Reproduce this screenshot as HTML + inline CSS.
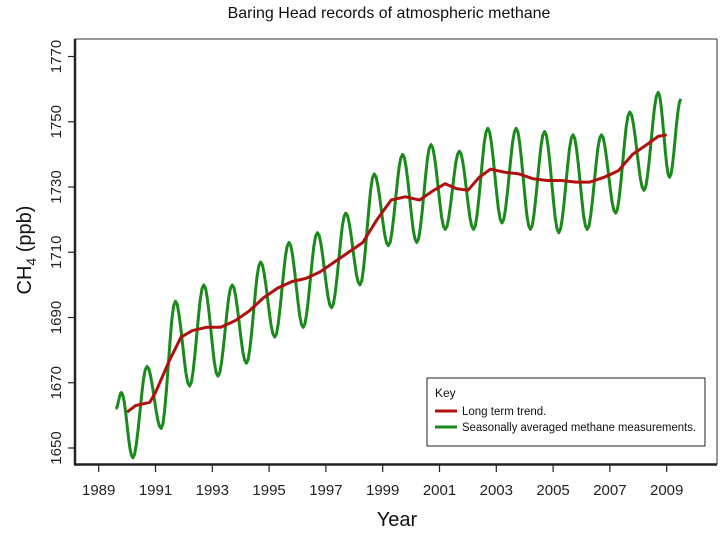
<!DOCTYPE html>
<html><head><meta charset="utf-8"><style>
body{margin:0;background:#fff;}
svg{display:block;font-family:"Liberation Sans",sans-serif;}
</style></head><body>
<svg id="s" width="720" height="555" viewBox="0 0 720 555" xmlns="http://www.w3.org/2000/svg">
<rect width="720" height="555" fill="#fff"/>
<text x="389" y="18" font-size="16" text-anchor="middle" fill="#111">Baring Head records of atmospheric methane</text>
<rect x="75" y="39" width="642" height="425" fill="none" stroke="#333" stroke-width="1"/>
<line x1="75" y1="39" x2="75" y2="465" stroke="#222" stroke-width="2.5"/>
<line x1="74" y1="464.5" x2="717" y2="464.5" stroke="#222" stroke-width="2.5"/>
<g id="ticks" stroke="#222" stroke-width="1.2"></g>
<g id="labels" font-size="15" fill="#222"></g>
<text transform="translate(31,250) rotate(-90)" font-size="20" text-anchor="middle" fill="#111">CH<tspan font-size="14" dy="5">4</tspan><tspan dy="-5"> (ppb)</tspan></text>
<text x="397" y="526" font-size="20" text-anchor="middle" fill="#111">Year</text>
<path id="g" fill="none" stroke="#1a8a1a" stroke-width="3" stroke-linejoin="round"/>
<path id="r" fill="none" stroke="#b01010" stroke-width="3" stroke-linejoin="round"/>
<rect x="427" y="378" width="278" height="68" fill="#fff" stroke="#222" stroke-width="1"/>
<text x="435" y="397" font-size="12" fill="#111">Key</text>
<line x1="435" y1="411" x2="457" y2="411" stroke="#b01010" stroke-width="3"/>
<line x1="435" y1="427" x2="457" y2="427" stroke="#1a8a1a" stroke-width="3"/>
<text x="462" y="415" font-size="11.5" fill="#111">Long term trend.</text>
<text x="462" y="431" font-size="11.5" fill="#111" textLength="234" lengthAdjust="spacingAndGlyphs">Seasonally averaged methane measurements.</text>
</svg>
<script>
var X=function(t){return 98.7+(t-1989)*28.4;};
var Y=function(v){return 448-(v-1650)*3.2625;};
var NS="http://www.w3.org/2000/svg";
var tk=document.getElementById('ticks'),lb=document.getElementById('labels');
function el(p,n,a,txt){var e=document.createElementNS(NS,n);for(var k in a)e.setAttribute(k,a[k]);if(txt)e.textContent=txt;p.appendChild(e);}
for(var y=1989;y<=2009;y+=2){el(tk,'line',{x1:X(y),y1:465,x2:X(y),y2:472});el(lb,'text',{x:X(y),y:495,'text-anchor':'middle'},String(y));}
for(var v=1650;v<=1770;v+=20){el(tk,'line',{x1:68,y1:Y(v),x2:75,y2:Y(v)});el(lb,'text',{transform:'translate(61,'+Y(v)+') rotate(-90)','text-anchor':'middle'},String(v));}
var G=[[1989.6,1662],[1989.8,1667],[1990.2,1647],[1990.7,1675],[1991.2,1656],[1991.7,1695],[1992.2,1669],[1992.7,1700],[1993.2,1672],[1993.7,1700],[1994.2,1676],[1994.7,1707],[1995.2,1684],[1995.7,1713],[1996.2,1687],[1996.7,1716],[1997.2,1693],[1997.7,1722],[1998.2,1700],[1998.7,1734],[1999.2,1712],[1999.7,1740],[2000.2,1713],[2000.7,1743],[2001.2,1717],[2001.7,1741],[2002.2,1717],[2002.7,1748],[2003.2,1719],[2003.7,1748],[2004.2,1717],[2004.7,1747],[2005.2,1716],[2005.7,1746],[2006.2,1717],[2006.7,1746],[2007.2,1722],[2007.7,1753],[2008.2,1729],[2008.7,1759],[2009.1,1733],[2009.5,1757]];
var d='';
for(var i=0;i<G.length-1;i++){var a=G[i],b=G[i+1];for(var k=0;k<=8;k++){var f=k/8,c=(1-Math.cos(Math.PI*f))/2;var t=a[0]+(b[0]-a[0])*f,v=a[1]+(b[1]-a[1])*c;d+=(d?'L':'M')+X(t).toFixed(1)+' '+Y(v).toFixed(1);}}
document.getElementById('g').setAttribute('d',d);
var R=[[1990,1661],[1990.3,1663],[1990.8,1664],[1991,1667],[1991.5,1677],[1991.9,1684],[1992.3,1686],[1992.8,1687],[1993.3,1687],[1993.8,1689],[1994.3,1692],[1994.8,1696],[1995.3,1699],[1995.8,1701],[1996.3,1702],[1996.8,1704],[1997.3,1707],[1997.8,1710],[1998.3,1713],[1998.8,1720],[1999.3,1726],[1999.8,1727],[2000.3,1726],[2000.8,1729],[2001.2,1731],[2001.6,1729.5],[2002,1729],[2002.4,1733],[2002.8,1735.5],[2003.3,1734.5],[2003.8,1734],[2004.3,1732.5],[2004.8,1732],[2005.3,1732],[2005.8,1731.5],[2006.3,1731.5],[2006.8,1733],[2007.3,1735],[2007.8,1740],[2008.3,1743],[2008.7,1745.5],[2009,1746]];
d='';R.forEach(function(p,i){d+=(i?'L':'M')+X(p[0]).toFixed(1)+' '+Y(p[1]).toFixed(1);});
document.getElementById('r').setAttribute('d',d);
</script>
</body></html>
